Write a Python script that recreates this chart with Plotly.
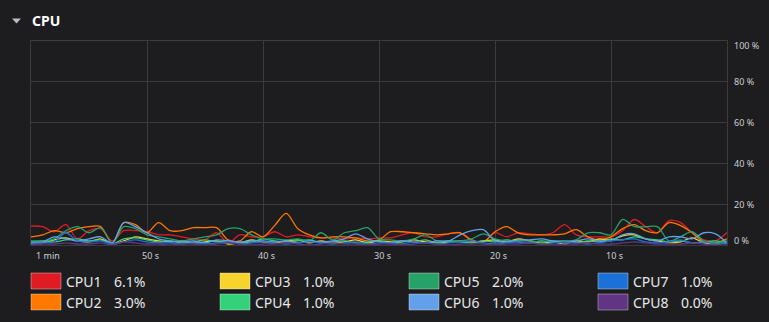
import plotly.graph_objects as go

# Time axis: one sample per second over the last minute
seconds = list(range(-60, 1))

cpu_names = ["CPU1", "CPU2", "CPU3", "CPU4", "CPU5", "CPU6", "CPU7", "CPU8"]
cpu_colors = ["#e01b24", "#ff7800", "#f6d32d", "#33d17a",
              "#26a269", "#62a0ea", "#1c71d8", "#613583"]

cpu1 = [9.3, 9.0, 6.5, 10.0, 3.0, 7.0, 8.0, 2.0, 7.0, 7.0,
        6.5, 5.0, 5.0, 4.0, 3.0, 2.5, 6.0, 1.0, 5.0, 4.0,
        4.0, 6.5, 4.0, 5.0, 4.0, 3.5, 3.5, 3.0, 3.5, 3.0,
        3.5, 3.5, 5.0, 6.0, 4.0, 4.0, 5.5, 6.0, 2.0, 1.5,
        6.0, 4.0, 6.0, 5.5, 5.0, 6.0, 10.0, 5.0, 4.0, 4.0,
        4.0, 7.0, 12.5, 9.0, 6.0, 12.0, 11.0, 6.0, 2.5, 2.0,
        6.1]
cpu2 = [4.0, 5.0, 7.0, 6.0, 8.0, 9.0, 9.0, 1.0, 11.0, 10.0,
        6.0, 11.0, 7.0, 7.0, 8.5, 8.5, 8.5, 2.5, 2.0, 6.5,
        4.0, 9.5, 15.5, 8.0, 5.0, 3.5, 4.0, 4.0, 3.5, 2.0,
        2.5, 6.5, 6.5, 6.0, 5.5, 5.0, 5.5, 6.0, 2.5, 1.5,
        6.5, 9.0, 6.0, 5.0, 5.0, 5.0, 5.5, 7.5, 4.0, 2.5,
        4.0, 8.0, 10.0, 7.0, 6.0, 11.0, 9.5, 6.0, 1.5, 1.0,
        3.0]
cpu3 = [0.5, 1.0, 2.5, 3.5, 2.0, 1.5, 3.0, 0.5, 2.0, 4.0,
        3.0, 2.0, 1.5, 2.0, 1.0, 1.5, 2.0, 0.5, 1.0, 2.5,
        1.5, 1.0, 2.0, 2.5, 1.0, 2.0, 1.0, 1.5, 2.5, 1.0,
        2.0, 1.5, 1.5, 2.5, 1.5, 1.0, 1.5, 2.0, 1.5, 2.0,
        2.5, 1.5, 3.0, 2.0, 1.0, 1.5, 0.5, 2.0, 1.5, 3.0,
        2.5, 4.5, 5.0, 3.0, 2.0, 1.0, 1.5, 3.5, 1.0, 0.5,
        1.0]
cpu4 = [1.5, 2.0, 1.5, 2.5, 3.0, 2.0, 2.5, 0.5, 3.0, 3.5,
        2.5, 1.5, 2.0, 1.0, 1.5, 2.5, 1.5, 2.0, 1.0, 1.5,
        3.0, 2.0, 1.5, 2.0, 2.5, 1.0, 1.5, 2.0, 1.0, 1.5,
        2.0, 1.0, 2.0, 1.5, 2.5, 1.0, 2.0, 1.5, 1.0, 2.0,
        1.5, 2.5, 1.5, 1.0, 2.0, 1.5, 2.0, 1.0, 2.0, 1.5,
        3.0, 2.5, 4.0, 3.0, 2.5, 1.5, 2.0, 1.0, 1.5, 2.0,
        1.0]
cpu5 = [2.0, 2.0, 3.0, 7.0, 9.0, 6.0, 8.5, 1.0, 9.0, 8.0,
        5.0, 4.0, 3.0, 2.0, 3.0, 4.0, 5.0, 8.0, 8.0, 5.0,
        3.0, 3.0, 2.5, 3.0, 2.0, 6.0, 2.5, 6.0, 7.0, 8.5,
        3.0, 2.5, 2.0, 3.0, 5.0, 2.0, 2.0, 2.0, 3.0, 5.5,
        3.0, 2.0, 2.0, 2.0, 1.5, 2.0, 2.0, 2.5, 6.0, 6.0,
        5.0, 12.5, 9.0, 9.0, 9.0, 2.0, 4.0, 6.5, 2.0, 1.0,
        2.0]
cpu6 = [1.0, 1.5, 4.0, 3.0, 2.0, 3.0, 4.0, 1.0, 11.0, 9.0,
        6.0, 3.0, 2.0, 1.5, 2.0, 1.0, 2.5, 2.0, 1.5, 2.0,
        2.0, 1.5, 2.0, 1.0, 2.0, 1.5, 2.0, 3.0, 5.5, 3.0,
        1.5, 1.0, 2.0, 1.5, 1.0, 2.0, 2.0, 5.0, 7.0, 7.5,
        2.0, 1.5, 2.5, 2.5, 3.0, 2.0, 1.5, 2.0, 3.0, 2.0,
        2.0, 5.0, 5.5, 3.0, 2.0, 4.0, 4.0, 3.0, 6.0, 5.5,
        1.0]
cpu7 = [0.5, 1.0, 1.5, 6.0, 2.0, 1.5, 2.0, 0.5, 1.5, 2.5,
        1.5, 1.0, 1.0, 0.5, 1.0, 0.5, 1.0, 1.5, 0.5, 1.0,
        1.5, 1.0, 0.5, 1.0, 1.5, 1.0, 0.5, 1.0, 1.5, 0.5,
        1.0, 1.0, 0.5, 1.5, 1.0, 0.5, 1.0, 1.5, 2.0, 1.0,
        0.5, 1.0, 1.5, 1.0, 0.5, 1.0, 1.5, 1.0, 0.5, 1.0,
        2.0, 2.5, 3.0, 1.5, 1.0, 1.5, 2.5, 1.0, 1.5, 0.5,
        1.0]
cpu8 = [0.0, 0.5, 0.5, 1.0, 0.5, 0.5, 1.0, 0.0, 1.5, 1.0,
        0.5, 0.5, 0.0, 0.5, 0.5, 0.0, 0.5, 1.0, 0.5, 0.0,
        0.5, 0.5, 1.0, 0.5, 0.0, 0.5, 1.0, 0.5, 0.5, 0.0,
        0.5, 0.5, 0.0, 0.5, 1.0, 0.5, 0.0, 0.5, 0.5, 0.5,
        0.0, 0.5, 0.5, 1.0, 0.5, 0.0, 0.5, 0.5, 1.0, 0.5,
        0.5, 1.0, 1.5, 1.0, 0.5, 0.5, 0.5, 1.0, 0.5, 0.0,
        0.0]
cpu_series = [cpu1, cpu2, cpu3, cpu4, cpu5, cpu6, cpu7, cpu8]

x_tick_values = [-60, -50, -40, -30, -20, -10, 0]
x_tick_labels = ["1 min", "50 s", "40 s", "30 s", "20 s", "10 s", ""]
y_tick_values = [0, 20, 40, 60, 80, 100]
y_tick_labels = ["0 %", "20 %", "40 %", "60 %", "80 %", "100 %"]

W, H = 769, 322
BG = "#1d1d20"
GRID = "#3b3b3e"
FONT = "Noto Sans"
L, R, T, B = 31, 727, 41, 245  # plot rectangle in pixels


def px(x):
    return (x - L) / (R - L)


def py(y):
    return (B - y) / (B - T)


fig = go.Figure()
for name, color, vals in zip(cpu_names, cpu_colors, cpu_series):
    fig.add_trace(go.Scatter(
        x=seconds, y=vals, name=name, mode="lines",
        line=dict(color=color, width=1.3, shape="spline", smoothing=0.9),
        showlegend=False, hoverinfo="skip",
    ))

annotations = []
# Time labels under the graph
for v, lab in zip(x_tick_values, x_tick_labels):
    if not lab:
        continue
    annotations.append(dict(
        x=v, xref="x", y=0, yref="paper", text=lab, showarrow=False,
        xanchor="left" if v == x_tick_values[0] else "center",
        yanchor="middle", xshift=3, yshift=-10,
        font=dict(family=FONT, size=9, color="#cfcfd1"),
    ))
# Percentage labels on the right; the end labels are nudged inside the frame
for v, lab in zip(y_tick_values, y_tick_labels):
    if v == y_tick_values[0]:
        shift = 5
    elif v == y_tick_values[-1]:
        shift = -4
    else:
        shift = 0
    annotations.append(dict(
        x=1, xref="paper", y=v, yref="y", text=lab, showarrow=False,
        xanchor="left", yanchor="middle", xshift=5, yshift=shift,
        font=dict(family=FONT, size=9, color="#cfcfd1"),
    ))

# Section header
annotations.append(dict(
    x=px(30), xref="paper", y=py(21), yref="paper", text="<b>CPU</b>",
    showarrow=False, xanchor="left", yanchor="middle",
    font=dict(family=FONT, size=14, color="#ffffff"),
))

shapes = [dict(
    type="path", xref="paper", yref="paper",
    path=f"M {px(12)} {py(18.5)} L {px(21)} {py(18.5)} L {px(16.5)} {py(23.5)} Z",
    fillcolor="#bdbdc0", line=dict(width=0),
)]

# Legend: four columns of two rows, each with a colour swatch, name and current value
col_x = [31, 220, 409, 598]
row_y = [281, 302]
for i, (name, color, vals) in enumerate(zip(cpu_names, cpu_colors, cpu_series)):
    cx = col_x[i // 2]
    cy = row_y[i % 2]
    shapes.append(dict(
        type="rect", xref="paper", yref="paper",
        x0=px(cx), x1=px(cx + 30), y0=py(cy - 8), y1=py(cy + 8),
        fillcolor=color, line=dict(color="rgba(255,255,255,0.35)", width=1),
    ))
    annotations.append(dict(
        x=px(cx + 33), xref="paper", y=py(cy), yref="paper", text=name,
        showarrow=False, xanchor="left", yanchor="middle",
        font=dict(family=FONT, size=14, color="#e8e8e8"),
    ))
    annotations.append(dict(
        x=px(cx + 81), xref="paper", y=py(cy), yref="paper",
        text=f"{vals[-1]:.1f}%", showarrow=False, xanchor="left", yanchor="middle",
        font=dict(family=FONT, size=14, color="#e8e8e8"),
    ))

fig.update_layout(
    width=W, height=H,
    margin=dict(l=L, r=W - R, t=T, b=H - B, pad=0),
    paper_bgcolor=BG, plot_bgcolor=BG,
    annotations=annotations, shapes=shapes,
    xaxis=dict(
        range=[-60, 0], tickvals=x_tick_values, showticklabels=False,
        showgrid=True, gridcolor=GRID, gridwidth=1, zeroline=False,
        showline=True, linecolor=GRID, linewidth=1, mirror=True, ticks="",
        fixedrange=True,
    ),
    yaxis=dict(
        range=[0, 100], tickvals=y_tick_values, showticklabels=False,
        showgrid=True, gridcolor=GRID, gridwidth=1, zeroline=False,
        showline=True, linecolor=GRID, linewidth=1, mirror=True, ticks="",
        fixedrange=True,
    ),
    showlegend=False,
)

fig.write_html("out.html", config={"displayModeBar": False})
